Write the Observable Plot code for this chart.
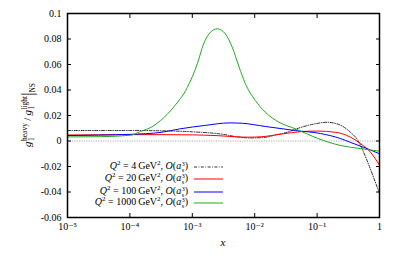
<!DOCTYPE html>
<html><head><meta charset="utf-8">
<script src="https://cdn.jsdelivr.net/npm/d3@7"></script>
<script src="https://cdn.jsdelivr.net/npm/@observablehq/plot@0.6"></script>
<style>
body{margin:0;background:#fff;}
#wrap{position:relative;width:399px;height:256px;font-family:"Liberation Serif","DejaVu Serif",serif;color:#000;}
#wrap svg{position:absolute;left:0;top:0;}
.ylab{position:absolute;left:28px;top:115px;transform:translate(-50%,-50%) rotate(-90deg);white-space:nowrap;font-size:11px;line-height:1;}
.st{display:inline-flex;flex-direction:column;vertical-align:middle;font-size:7.5px;line-height:1;margin-left:0.5px;text-align:left;}
.xlab{position:absolute;left:223px;top:242px;transform:translate(-50%,-50%);font-style:italic;font-size:11px;}
.leg{position:absolute;left:0;width:188px;text-align:right;font-size:10px;line-height:1;white-space:nowrap;transform:translateY(-50%);}
.leg sup,.leg sub{font-size:7px;line-height:0;}
.smp{position:absolute;left:194px;}
</style></head><body><div id="wrap"></div>
<script>
// Q^2 = 4 GeV^2 (dash-dot black)
const logX4 = [-5, -4.5, -4, -3.5, -3.0, -2.5, -2.25, -2.05, -1.85, -1.7, -1.48, -1.27, -1.03, -0.84, -0.63, -0.47, -0.34, -0.21, -0.1, 0];
const g4    = [0.0082, 0.0082, 0.0082, 0.0080, 0.0072, 0.0052, 0.0030, 0.0024, 0.0028, 0.0043, 0.0069, 0.0105, 0.0135, 0.0147, 0.0125, 0.0070, 0.0, -0.014, -0.028, -0.041];
// Q^2 = 20 GeV^2 (red)
const logX20 = [-5, -4.5, -4, -3.5, -3, -2.6, -2.3, -2.1, -1.9, -1.55, -1.27, -1.0, -0.7, -0.465, -0.3, -0.144, 0];
const g20    = [0.0047, 0.0049, 0.0050, 0.0050, 0.0048, 0.0042, 0.0033, 0.0030, 0.0033, 0.0056, 0.0073, 0.0078, 0.0068, 0.0030, -0.0022, -0.0088, -0.019];
// Q^2 = 100 GeV^2 (blue)
const logX100 = [-5, -4.5, -4, -3.5, -3.2, -2.8, -2.4, -2.2, -1.83, -1.35, -0.95, -0.63, -0.47, -0.2, 0];
const g100    = [0.0043, 0.0046, 0.0052, 0.0068, 0.0095, 0.0122, 0.0142, 0.0139, 0.0114, 0.0082, 0.0059, 0.0020, -0.0010, -0.0060, -0.0100];
// Q^2 = 1000 GeV^2 (green)
const logX1000 = [-5, -4.47, -3.99, -3.83, -3.65, -3.51, -3.30, -3.08, -2.92, -2.82, -2.71, -2.60, -2.47, -2.36, -2.25, -2.15, -1.99, -1.83, -1.61, -1.35, -0.99, -0.625, -0.30, 0];
const g1000    = [0.0032, 0.0034, 0.0045, 0.0075, 0.0110, 0.0160, 0.0265, 0.0420, 0.0605, 0.0760, 0.0853, 0.0880, 0.0840, 0.0736, 0.0580, 0.0450, 0.0318, 0.0226, 0.0147, 0.0096, 0.0020, -0.0035, -0.0060, -0.0080];

const xTicks = [1e-5, 1e-4, 1e-3, 1e-2, 1e-1, 1];
const xTickLabels = ["10⁻⁵", "10⁻⁴", "10⁻³", "10⁻²", "10⁻¹", "1"];
const yTicks = [-0.06, -0.04, -0.02, 0, 0.02, 0.04, 0.06, 0.08, 0.1];
const yTickLabels = ["-0.06", "-0.04", "-0.02", "0", "0.02", "0.04", "0.06", "0.08", "0.1"];

const seriesNames = ["4", "20", "100", "1000"];
const seriesColors = ["#333333", "#ff0000", "#0000ff", "#22aa22"];
const seriesDash = ["3,1.5,0.8,1.5", null, null, null];

const tables = [[logX4, g4], [logX20, g20], [logX100, g100], [logX1000, g1000]]
  .map(([lx, g]) => lx.map((v, i) => ({x: Math.pow(10, v), y: g[i]})));

const nearestIdx = (arr, d, log) => {
  let best = 0, bd = Infinity;
  arr.forEach((v, i) => { const e = log ? Math.abs(Math.log10(v) - Math.log10(d)) : Math.abs(v - d); if (e < bd) { bd = e; best = i; } });
  return best;
};

const chart = Plot.plot({
  width: 399, height: 256,
  marginLeft: 67, marginRight: 20, marginTop: 13, marginBottom: 39,
  style: {fontFamily: "Liberation Serif, DejaVu Serif, serif", fontSize: "10px", background: "white"},
  x: {type: "log", domain: [1e-5, 1]},
  y: {domain: [-0.06, 0.1]},
  marks: [
    Plot.ruleY([0], {stroke: "#999", strokeWidth: 0.8, strokeDasharray: "1.2,1.2"}),
    ...tables.map((t, i) => Plot.line(t, {x: "x", y: "y", stroke: seriesColors[i], strokeWidth: 1, strokeDasharray: seriesDash[i], curve: "monotone-x"})),
    Plot.axisX(xTicks, {tickSize: 0, tickPadding: 5, tickFormat: d => xTickLabels[nearestIdx(xTicks, d, true)], label: null}),
    Plot.axisX(xTicks, {anchor: "bottom", tickSize: -4, fill: "none", label: null}),
    Plot.axisX(xTicks, {anchor: "top", tickSize: -4, fill: "none", label: null}),
    Plot.axisY(yTicks, {tickSize: 0, tickPadding: 6, tickFormat: d => yTickLabels[nearestIdx(yTicks, d, false)], label: null}),
    Plot.axisY(yTicks, {anchor: "left", tickSize: -4, fill: "none", label: null}),
    Plot.axisY(yTicks, {anchor: "right", tickSize: -4, fill: "none", label: null}),
    Plot.frame({stroke: "black", strokeWidth: 1.5})
  ]
});

const wrap = document.getElementById("wrap");
wrap.appendChild(chart);

const ylab = document.createElement("div");
ylab.className = "ylab";
ylab.innerHTML = '<i>g</i><span class="st"><span>heavy</span><span>1</span></span>&thinsp;/&thinsp;<i>g</i><span class="st"><span>light</span><span>1</span></span><span style="font-size:16px;vertical-align:middle;">|</span><span style="font-size:7.5px;vertical-align:-4px;">NS</span>';
wrap.appendChild(ylab);

const xlab = document.createElement("div");
xlab.className = "xlab";
xlab.textContent = "x";
wrap.appendChild(xlab);

const rowY = [167.3, 179.3, 191.5, 203];
seriesNames.forEach((q, i) => {
  const d = document.createElement("div");
  d.className = "leg";
  d.style.top = rowY[i] + "px";
  d.innerHTML = `<i>Q</i><sup>2</sup> = ${q}&thinsp;GeV<sup>2</sup>, <i>O</i>(<i>a</i><span class="st" style="font-size:6px"><span>3</span><span>s</span></span>)`;
  wrap.appendChild(d);
  const s = document.createElementNS("http://www.w3.org/2000/svg", "svg");
  s.setAttribute("class", "smp");
  s.setAttribute("width", "29"); s.setAttribute("height", "4");
  s.style.top = (rowY[i] - 2) + "px";
  s.style.left = "194px";
  const l = document.createElementNS("http://www.w3.org/2000/svg", "line");
  l.setAttribute("x1", 0); l.setAttribute("x2", 29); l.setAttribute("y1", 2); l.setAttribute("y2", 2);
  l.setAttribute("stroke", seriesColors[i]); l.setAttribute("stroke-width", 1);
  if (seriesDash[i]) l.setAttribute("stroke-dasharray", seriesDash[i]);
  s.appendChild(l);
  wrap.appendChild(s);
});
</script>
</body></html>
